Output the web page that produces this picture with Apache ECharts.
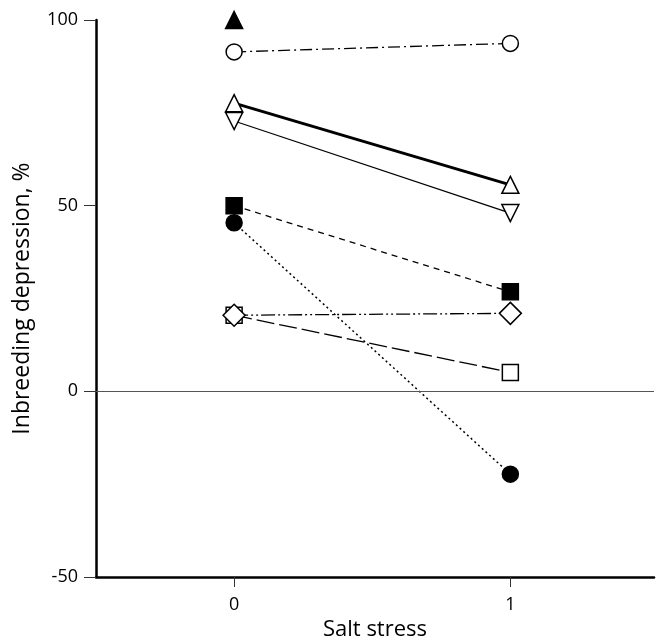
<!DOCTYPE html>
<html>
<head>
<meta charset="utf-8">
<script src="https://cdn.jsdelivr.net/npm/echarts@6/dist/echarts.min.js"></script>
<style>html,body{margin:0;padding:0;background:#fff}#c{width:656px;height:640px}</style>
</head>
<body>
<div id="c"></div>
<script>
const stress = [0, 1];
const yTicks = [-50, 0, 50, 100];
const filledTriangle = [100];
const openCircle = [91.4, 93.7];
const openTriangleUp = [77.6, 55.6];
const openTriangleDown = [72.8, 48.0];
const filledSquare = [50.0, 26.8];
const filledCircle = [45.4, -22.3];
const openDiamond = [20.5, 21.0];
const openSquare = [20.5, 5.1];

const FONT = '"Open Sans", "DejaVu Sans", sans-serif';

function pts(vals) { return vals.map((v, i) => [stress[i], v]); }
function mk(name, vals, symbol, size, fill, lw, dash, extra) {
  return Object.assign({
    name, type: 'line', data: pts(vals), symbol, symbolSize: size,
    showAllSymbol: true,
    itemStyle: { color: fill, borderColor: '#000', borderWidth: 1.5 },
    lineStyle: { color: '#000', width: lw, type: dash },
    emphasis: { disabled: true }, animation: false, z: 3
  }, extra || {});
}

const chart = echarts.init(document.getElementById('c'), null, { renderer: 'canvas' });
chart.setOption({
  animation: false,
  textStyle: { fontFamily: FONT },
  grid: { left: 96, top: 20, right: 2, bottom: 63, containLabel: false, outerBoundsMode: 'none' },
  xAxis: {
    type: 'value', min: -0.5, max: 1.52,
    name: 'Salt stress', nameLocation: 'middle', nameGap: 40,
    nameTextStyle: { fontFamily: FONT, fontSize: 22, color: '#000' },
    axisLine: { show: true, onZero: false, lineStyle: { color: '#000', width: 2.5 } },
    axisTick: { show: true, customValues: stress, length: 10, lineStyle: { color: '#333', width: 1 } },
    axisLabel: { customValues: stress, fontFamily: FONT, fontSize: 18, color: '#000', margin: 19 },
    splitLine: { show: false }
  },
  yAxis: {
    type: 'value', min: -50, max: 100, interval: 50,
    name: 'Inbreeding depression, %', nameLocation: 'middle', nameGap: 62,
    nameTextStyle: { fontFamily: FONT, fontSize: 23, color: '#000' },
    axisLine: { show: true, onZero: false, lineStyle: { color: '#000', width: 2.5 } },
    axisTick: { show: true, customValues: yTicks, length: 12, lineStyle: { color: '#333', width: 1 } },
    axisLabel: { customValues: yTicks, fontFamily: FONT, fontSize: 18, color: '#000', margin: 18 },
    splitLine: { show: false }
  },
  series: [
    {
      type: 'line', data: [], silent: true,
      markLine: {
        silent: true, symbol: 'none', animation: false,
        label: { show: false },
        lineStyle: { color: '#555', width: 1.2, type: 'solid' },
        data: [{ yAxis: 0 }]
      }
    },
    mk('openSquare', openSquare, 'rect', 16, '#fff', 1.3, [18, 5]),
    mk('openDiamond', openDiamond, 'diamond', 22, '#fff', 1.3, [14, 3, 2, 3, 2, 3]),
    mk('filledCircle', filledCircle, 'circle', 16, '#000', 1.5, [2, 3]),
    mk('filledSquare', filledSquare, 'rect', 16, '#000', 1.3, [6, 5]),
    mk('openTriangleDown', openTriangleDown, 'triangle', 17, '#fff', 1.2, 'solid', { symbolRotate: 180 }),
    mk('openTriangleUp', openTriangleUp, 'triangle', 17, '#fff', 3, 'solid'),
    mk('openCircle', openCircle, 'circle', 16, '#fff', 1.3, [12, 4, 2, 4]),
    mk('filledTriangle', filledTriangle, 'triangle', 17, '#000', 0, 'solid')
  ]
});
</script>
</body>
</html>
